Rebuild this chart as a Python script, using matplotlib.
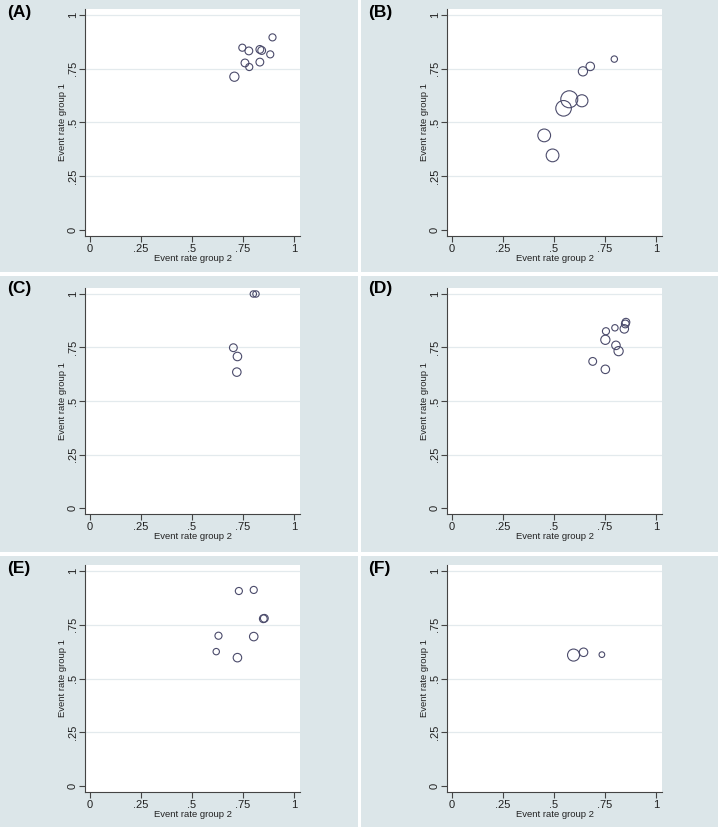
import matplotlib
matplotlib.use('Agg')
import matplotlib.pyplot as plt
from matplotlib.patches import Rectangle

plt.rcParams['font.family'] = ['Liberation Sans', 'DejaVu Sans']

# event rates per panel (x = group 2, y = group 1) and marker weights
labels = ['(A)', '(B)', '(C)', '(D)', '(E)', '(F)']

x_a = [0.895, 0.747, 0.779, 0.833, 0.842, 0.884, 0.760, 0.833, 0.781, 0.708]
y_a = [0.896, 0.848, 0.833, 0.840, 0.835, 0.817, 0.777, 0.781, 0.758, 0.713]
w_a = [100, 100, 121, 121, 121, 100, 121, 121, 100, 169]

x_b = [0.796, 0.678, 0.642, 0.575, 0.637, 0.547, 0.452, 0.493]
y_b = [0.795, 0.761, 0.738, 0.608, 0.601, 0.566, 0.440, 0.347]
w_b = [81, 144, 169, 576, 289, 484, 324, 324]

x_c = [0.801, 0.814, 0.703, 0.723, 0.720]
y_c = [1.0, 1.0, 0.749, 0.708, 0.635]
w_c = [81, 81, 121, 144, 144]

x_d = [0.853, 0.850, 0.845, 0.799, 0.755, 0.752, 0.804, 0.817, 0.690, 0.752]
y_d = [0.868, 0.860, 0.837, 0.842, 0.826, 0.786, 0.760, 0.733, 0.685, 0.648]
w_d = [121, 121, 144, 81, 100, 169, 144, 169, 121, 144]

x_e = [0.730, 0.803, 0.850, 0.855, 0.630, 0.803, 0.619, 0.723]
y_e = [0.907, 0.912, 0.778, 0.780, 0.699, 0.695, 0.625, 0.597]
w_e = [100, 100, 121, 121, 100, 144, 81, 144]

x_f = [0.596, 0.645, 0.735]
y_f = [0.609, 0.622, 0.611]
w_f = [289, 144, 64]

ticks = [0, 0.25, 0.5, 0.75, 1]
tick_labels = ['0', '.25', '.5', '.75', '1']

data = [(x_a, y_a, w_a), (x_b, y_b, w_b), (x_c, y_c, w_c),
        (x_d, y_d, w_d), (x_e, y_e, w_e), (x_f, y_f, w_f)]

W, H = 720, 830
bg = '#dce6e9'
fig = plt.figure(figsize=(7.2, 8.3), dpi=100, facecolor='white')

# panel backgrounds (pixel boxes)
cols = [(0, 357.5), (361, 718)]
rows = [(0, 272.5), (276, 552), (556, 827)]
ax_cols = [(85, 300), (447, 662)]
ax_rows = [(9, 236), (288, 514), (565, 792)]

for i, (xs, ys, ws) in enumerate(data):
    r, c = divmod(i, 2)
    x0, x1 = cols[c]
    y0, y1 = rows[r]
    fig.patches.append(Rectangle((x0 / W, 1 - y1 / H), (x1 - x0) / W, (y1 - y0) / H,
                                 transform=fig.transFigure, facecolor=bg,
                                 edgecolor='none', zorder=-5))
    fig.text((x0 + 7) / W, 1 - (y0 + 17) / H, labels[i], fontsize=12.5,
             fontweight='bold', color='black')

    l, rr = ax_cols[c]
    t, b = ax_rows[r]
    ax = fig.add_axes([l / W, 1 - b / H, (rr - l) / W, (b - t) / H])
    ax.set_zorder(2)
    ax.set_facecolor('white')
    ax.set_xlim(-0.025, 1.03)
    ax.set_ylim(-0.028, 1.028)
    for yv in ticks[1:]:
        ax.axhline(yv, color='#e3eaed', lw=0.9, zorder=1)
    ax.scatter(xs, ys, s=[0.26 * w for w in ws], facecolors='none',
               edgecolors='#4b4b6b', linewidths=0.8, zorder=3)
    ax.set_xticks(ticks)
    ax.set_xticklabels(tick_labels)
    ax.set_yticks(ticks)
    ax.set_yticklabels(tick_labels, rotation=90, va='center')
    ax.tick_params(labelsize=8, length=4, width=0.8, color='#444444',
                   labelcolor='#222222', pad=1.5)
    ax.tick_params(axis='y', pad=1)
    for side in ['top', 'right']:
        ax.spines[side].set_visible(False)
    for side in ['left', 'bottom']:
        ax.spines[side].set_color('#444444')
        ax.spines[side].set_linewidth(0.8)
    ax.set_xlabel('Event rate group 2', fontsize=6.8, color='#222222', labelpad=0.5)
    ax.set_ylabel('Event rate group 1', fontsize=6.8, color='#222222', labelpad=1)

fig.savefig('out.png', dpi=100, facecolor='white')
